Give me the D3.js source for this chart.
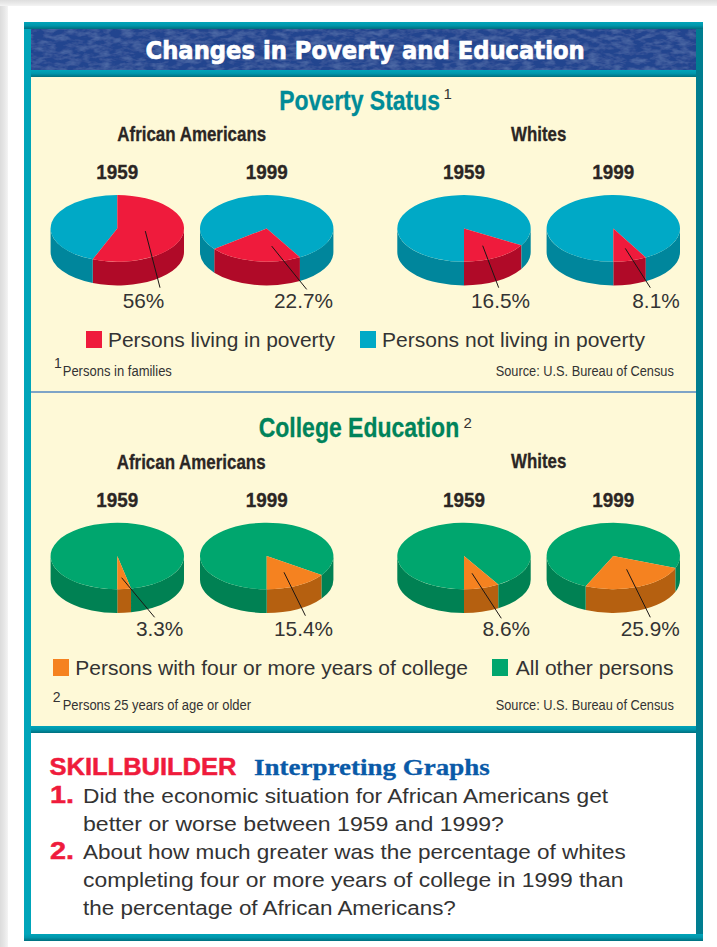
<!DOCTYPE html>
<html lang="en">
<head>
<meta charset="UTF-8">
<title>Changes in Poverty and Education</title>
<script src="https://d3js.org/d3.v7.min.js"></script>
<style>
    body { margin: 0; background: #fff; }
    svg { display: block; }
    text { font-family: "Liberation Sans", Arial, sans-serif; }
</style>
</head>
<body>
<svg id="chart" width="717" height="947"></svg>
<script>
// Values
const groups = ["African Americans", "Whites"];
const years = ["1959", "1999", "1959", "1999"];
const povertyPct = [56, 22.7, 16.5, 8.1];
const povertyStartPct = [0, 41.7, 33.5, 41.9];   // where each wedge starts, clockwise from 12 o'clock
const collegePct = [3.3, 15.4, 8.6, 25.9];
const collegeStartPct = [46.7, 34.6, 41.4, 30.9];

const povertyLegend = ["Persons living in poverty", "Persons not living in poverty"];
const collegeLegend = ["Persons with four or more years of college", "All other persons"];
const source = "Source: U.S. Bureau of Census";
const questions = [
    "Did the economic situation for African Americans get",
    "better or worse between 1959 and 1999?",
    "About how much greater was the percentage of whites",
    "completing four or more years of college in 1999 than",
    "the percentage of African Americans?"
];

// Layout
const pieX = [117.3, 266.7, 464, 613.3];
const rx = 66.7, ry = 33.3, depth = 23.7;
const ink = "#2b2624";
const red = ["#ef1b3c", "#b00a28"], blue = ["#00a9c6", "#00869c"];
const orange = ["#f58220", "#b56010"], green = ["#00a66e", "#008153"];

const svg = d3.select("#chart");
const defs = svg.append("defs");

function vGrad(id, stops) {
    const g = defs.append("linearGradient").attr("id", id).attr("x1", 0).attr("y1", 0).attr("x2", 0).attr("y2", 1);
    stops.forEach((c, i) => g.append("stop").attr("offset", i / (stops.length - 1)).attr("stop-color", c));
}
function hGrad(id, stops) {
    const g = defs.append("linearGradient").attr("id", id).attr("x1", 0).attr("y1", 0).attr("x2", 1).attr("y2", 0);
    stops.forEach((c, i) => g.append("stop").attr("offset", i / (stops.length - 1)).attr("stop-color", c));
}
vGrad("strip", ["#00a5ba", "#0096ab", "#006f7e"]);
hGrad("side", ["#00a5ba", "#0092a8", "#007d90"]);
hGrad("shadeL", ["#dcdcdc", "#e6e6e6", "#f4f4f4"]);
vGrad("shadeT", ["#dedede", "#e8e8e8", "#f4f4f4"]);

// mottled header texture
const tex = defs.append("filter").attr("id", "mottle").attr("x", 0).attr("y", 0).attr("width", 1).attr("height", 1);
tex.append("feTurbulence").attr("type", "fractalNoise").attr("baseFrequency", "0.09 0.22").attr("numOctaves", 3).attr("seed", 4).attr("result", "n");
tex.append("feColorMatrix").attr("in", "n").attr("type", "matrix")
    .attr("values", "0 0 0 0 0.2  0 0 0 0 0.33  0 0 0 0 0.62  0.7 0 0 0 -0.28").attr("result", "c");
tex.append("feComposite").attr("in", "c").attr("in2", "SourceGraphic").attr("operator", "over");

function rect(x, y, w, h, fill) {
    return svg.append("rect").attr("x", x).attr("y", y).attr("width", w).attr("height", h).attr("fill", fill);
}
// width squeezes the glyphs to the measured width of the reference text
function txt(str, x, y, o) {
    const fill = o.fill || ink;
    const t = svg.append("text").text(str)
        .attr("font-size", o.size).attr("fill", fill)
        .attr("font-weight", o.bold ? "bold" : null)
        .attr("text-anchor", o.anchor || "start");
    if (o.family) t.style("font-family", o.family);
    if (o.heavy) t.attr("stroke", fill).attr("stroke-width", o.heavy);
    if (o.width) {
        const k = o.width / t.node().getComputedTextLength();
        t.attr("transform", `translate(${x},${y}) scale(${k},1)`);
    } else {
        t.attr("x", x).attr("y", y);
    }
    return t;
}

// Page and frame
rect(0, 0, 8, 947, "url(#shadeL)");
rect(0, 0, 717, 6, "url(#shadeT)");
rect(24, 22, 679, 919, "url(#side)");
rect(31, 29, 665, 905, "#fff");
rect(24, 22, 679, 7, "url(#strip)");
rect(31, 29, 665, 41, "#24458f").attr("filter", "url(#mottle)");
rect(31, 70, 665, 7, "url(#strip)");
rect(31, 77, 665, 649, "#fef9d7");
rect(31, 391.2, 665, 1.6, "#5f8fc4");
rect(31, 726, 665, 7, "url(#strip)");
rect(24, 934, 679, 7, "url(#strip)");

txt("Changes in Poverty and Education", 145.5, 58.7, { size: 25, bold: true, fill: "#fff", family: "'DejaVu Sans'", width: 439.5, heavy: 0.7 });

// Pies
const angle = d3.scaleLinear().domain([0, 100]).range([0, 2 * Math.PI]);
const arc = d3.arc().innerRadius(0).outerRadius(rx);
const px = (cx, a) => cx + rx * Math.sin(a);
const py = (cy, a) => cy - ry * Math.cos(a);

function wall(cx, cy, a0, a1) {
    // the part of a wedge that faces the viewer, front half of the ellipse only
    let d = "";
    [0, 2 * Math.PI].forEach(shift => {
        const s = Math.max(a0, Math.PI / 2 + shift), e = Math.min(a1, 1.5 * Math.PI + shift);
        if (e <= s) return;
        d += `M${px(cx, s)},${py(cy, s)}A${rx},${ry} 0 0 1 ${px(cx, e)},${py(cy, e)}` +
             `L${px(cx, e)},${py(cy, e) + depth}A${rx},${ry} 0 0 0 ${px(cx, s)},${py(cy, s) + depth}Z`;
    });
    return d;
}

function drawPie(cx, cy, pct, startPct, hot, cold, leader, valueDx, valueY) {
    const a = angle(startPct);
    const slices = d3.pie().sort(null).startAngle(a).endAngle(a + 2 * Math.PI)([pct, 100 - pct]);
    const colors = [hot, cold];
    const g = svg.append("g");
    slices.forEach((s, i) => {
        g.append("path").attr("d", wall(cx, cy, s.startAngle, s.endAngle)).attr("fill", colors[i][1]);
    });
    const top = g.append("g").attr("transform", `translate(${cx},${cy}) scale(1,${ry / rx})`);
    slices.slice().reverse().forEach(s => {
        top.append("path").attr("d", arc(s)).attr("fill", colors[s.index][0]);
    });
    svg.append("line")
        .attr("x1", cx + leader[0]).attr("y1", cy + leader[1])
        .attr("x2", cx + leader[2]).attr("y2", cy + leader[3])
        .attr("stroke", "#1c1715").attr("stroke-width", 1);
    txt(pct + "%", cx + valueDx, valueY, { size: 20.8, anchor: "end", fill: "#333" });
}

const povertyLeaders = [[28, 2.7, 42.7, 59.3], [5, 17.7, 40, 61], [18.7, 17.3, 34.7, 59.3], [12, 20, 37, 59.3]];
const collegeLeaders = [[4.3, 21.7, 37.3, 61.3], [17.3, 16.3, 38.7, 59.7], [8, 17.3, 37.3, 62.3], [13.3, 13.3, 37, 61.3]];
const povertyValueDx = [47, 66.3, 66, 66.4];
const collegeValueDx = [66, 66.3, 66, 66.4];

povertyPct.forEach((v, i) => drawPie(pieX[i], 228.4, v, povertyStartPct[i], red, blue, povertyLeaders[i], povertyValueDx[i], 308));
collegePct.forEach((v, i) => drawPie(pieX[i], 556, v, collegeStartPct[i], orange, green, collegeLeaders[i], collegeValueDx[i], 636));

// Section headings
txt("Poverty Status", 279.3, 110, { size: 27, bold: true, fill: "#008b97", width: 160.7, heavy: 0.3 });
txt("1", 443.5, 99.3, { size: 15, fill: "#333" });
txt("College Education", 258.7, 437.3, { size: 27, bold: true, fill: "#00835a", width: 200.6, heavy: 0.3 });
txt("2", 463.5, 428, { size: 15, fill: "#333" });

txt(groups[0], 117.3, 141.3, { size: 20, bold: true, width: 149, heavy: 0.3 });
txt(groups[1], 511, 141.3, { size: 20, bold: true, width: 55.3, heavy: 0.3 });
txt(groups[0], 116.7, 469, { size: 20, bold: true, width: 149, heavy: 0.3 });
txt(groups[1], 511, 468.4, { size: 20, bold: true, width: 55.3, heavy: 0.3 });

years.forEach((y, i) => {
    txt(y, pieX[i] - 21, 179, { size: 20, bold: true, width: 42, heavy: 0.3 });
    txt(y, pieX[i] - 21, 507, { size: 20, bold: true, width: 42, heavy: 0.3 });
});

// Legends
rect(86, 331, 16, 17, red[0]);
txt(povertyLegend[0], 108, 346.7, { size: 20.8, fill: "#333", width: 227 });
rect(360, 331, 16, 17, blue[0]);
txt(povertyLegend[1], 382, 346.7, { size: 20.8, fill: "#333", width: 263 });
rect(53, 659, 16, 17, orange[0]);
txt(collegeLegend[0], 75.3, 675.3, { size: 20.8, fill: "#333", width: 393 });
rect(492, 659, 16, 17, green[0]);
txt(collegeLegend[1], 515.7, 675.3, { size: 20.8, fill: "#333", width: 158 });

// Footnotes
txt("1", 54, 367.7, { size: 14, fill: "#333" });
txt("Persons in families", 62.7, 376, { size: 15, fill: "#333", width: 109.3 });
txt(source, 495.7, 376, { size: 15, fill: "#333", width: 178.3 });
txt("2", 52.7, 701.7, { size: 14, fill: "#333" });
txt("Persons 25 years of age or older", 62.7, 710, { size: 15, fill: "#333", width: 188.6 });
txt(source, 495.7, 710, { size: 15, fill: "#333", width: 178.3 });

// Skillbuilder box
txt("SKILLBUILDER", 49.5, 774.7, { size: 24, bold: true, fill: "#ef1b3c", width: 187, heavy: 0.5 });
txt("Interpreting Graphs", 254, 775, { size: 24, bold: true, fill: "#0a5aa8", family: "'Liberation Serif'", width: 236, heavy: 0.3 });
txt("1.", 50, 802.7, { size: 24, bold: true, fill: "#ef1b3c", width: 24, heavy: 0.5 });
txt("2.", 50, 858.7, { size: 24, bold: true, fill: "#ef1b3c", width: 24, heavy: 0.5 });
const questionWidths = [525.5, 421, 543, 540.7, 373];
questions.forEach((q, i) => {
    txt(q, 83, 802.7 + i * 28, { size: 20.8, fill: "#333", width: questionWidths[i] });
});
</script>
</body>
</html>
